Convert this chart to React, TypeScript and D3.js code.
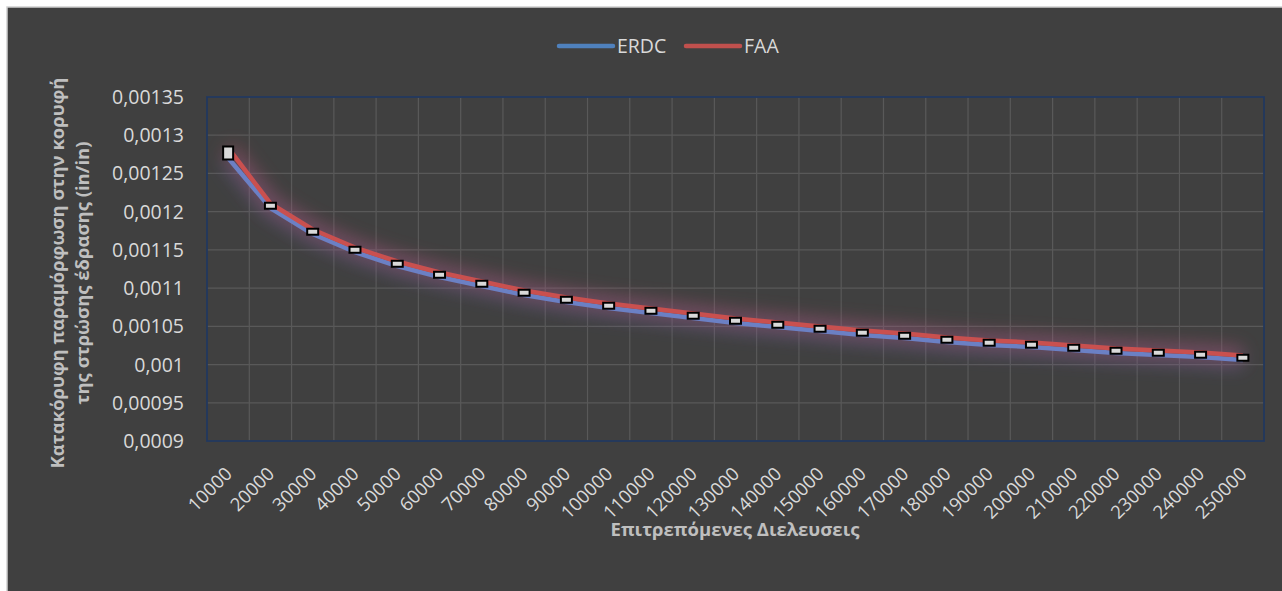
import React, { useRef, useEffect } from "react";
import * as d3 from "d3";

const categories = [
  "10000", "20000", "30000", "40000", "50000", "60000", "70000", "80000", "90000",
  "100000", "110000", "120000", "130000", "140000", "150000", "160000", "170000",
  "180000", "190000", "200000", "210000", "220000", "230000", "240000", "250000",
];

const erdc = [
  0.0012702, 0.0012048, 0.0011708, 0.0011472, 0.0011289, 0.0011145, 0.0011028,
  0.001091, 0.0010818, 0.001074, 0.0010674, 0.0010609, 0.0010544, 0.0010491,
  0.0010439, 0.0010387, 0.0010347, 0.0010295, 0.0010256, 0.001023, 0.001019,
  0.0010151, 0.0010125, 0.0010099, 0.001006,
];

const faa = [
  0.0012833, 0.0012107, 0.0011767, 0.0011531, 0.0011348, 0.0011204, 0.0011086,
  0.0010969, 0.0010877, 0.0010799, 0.0010733, 0.0010668, 0.0010602, 0.001055,
  0.0010498, 0.0010446, 0.0010406, 0.0010354, 0.0010315, 0.0010289, 0.0010249,
  0.001021, 0.0010184, 0.0010158, 0.0010118,
];

const yTicks = [
  0.0009, 0.00095, 0.001, 0.00105, 0.0011, 0.00115, 0.0012, 0.00125, 0.0013, 0.00135,
];

const seriesNames = ["ERDC", "FAA"];
const yTitle = ["Κατακόρυφη παραμόρφωση στην κορυφή", "της στρώσης έδρασης (in/in)"];
const xTitle = "Επιτρεπόμενες Διελευσεις";

const W = 1282;
const H = 591;
const FONT = "'Open Sans', 'Noto Sans', sans-serif";

const Chart = () => {
  const svgRef = useRef<SVGSVGElement>(null);

  useEffect(() => {
    const svg = d3.select(svgRef.current);
    svg.selectAll("*").remove();

    const plot = { left: 207, right: 1264, top: 97, bottom: 441 };

    // background
    svg.append("rect").attr("width", W).attr("height", H).attr("fill", "#ffffff");
    svg
      .append("rect")
      .attr("x", 7)
      .attr("y", 7)
      .attr("width", W)
      .attr("height", H)
      .attr("fill", "#404040")
      .attr("stroke", "#d0d0d0")
      .attr("stroke-width", 1.5);

    const defs = svg.append("defs");
    defs
      .append("filter")
      .attr("id", "glow")
      .attr("x", "-10%")
      .attr("y", "-60%")
      .attr("width", "120%")
      .attr("height", "220%")
      .append("feGaussianBlur")
      .attr("stdDeviation", 9);

    const x = d3.scaleBand().domain(categories).range([plot.left, plot.right]).padding(0);
    const y = d3.scaleLinear().domain([0.0009, 0.00135]).range([plot.bottom, plot.top]);
    const cx = (c: string) => (x(c) as number) + x.bandwidth() / 2;

    // gridlines
    const grid = svg.append("g").attr("stroke", "#595959").attr("stroke-width", 1.2);
    yTicks.forEach((t) => {
      grid
        .append("line")
        .attr("x1", plot.left)
        .attr("x2", plot.right)
        .attr("y1", y(t))
        .attr("y2", y(t));
    });
    categories.slice(1).forEach((c) => {
      grid
        .append("line")
        .attr("x1", x(c) as number)
        .attr("x2", x(c) as number)
        .attr("y1", plot.top)
        .attr("y2", plot.bottom);
    });

    // plot border
    svg
      .append("rect")
      .attr("x", plot.left)
      .attr("y", plot.top)
      .attr("width", plot.right - plot.left)
      .attr("height", plot.bottom - plot.top)
      .attr("fill", "none")
      .attr("stroke", "#22385e")
      .attr("stroke-width", 1.8);

    // y tick labels
    svg
      .append("g")
      .selectAll("text")
      .data(yTicks)
      .join("text")
      .attr("x", 184)
      .attr("y", (d) => y(d))
      .attr("dy", "0.36em")
      .attr("text-anchor", "end")
      .attr("fill", "#d9d9d9")
      .attr("font-family", FONT)
      .attr("font-size", 19.5)
      .text((d) => String(d).replace(".", ","));

    // x tick labels
    svg
      .append("g")
      .selectAll("text")
      .data(categories)
      .join("text")
      .attr("transform", (d) => `translate(${cx(d) + 5},${475}) rotate(-45)`)
      .attr("text-anchor", "end")
      .attr("fill", "#d9d9d9")
      .attr("font-family", FONT)
      .attr("font-size", 18.5)
      .text((d) => d);

    const line = d3
      .line<number>()
      .x((_, i) => cx(categories[i]))
      .y((d) => y(d));

    const series = [
      { name: seriesNames[0], values: erdc, color: "#6b80c4", glow: "#5a70c8" },
      { name: seriesNames[1], values: faa, color: "#c9504f", glow: "#d04a55" },
    ];

    // glow
    series.forEach((s) => {
      svg
        .append("path")
        .attr("d", line(s.values))
        .attr("fill", "none")
        .attr("stroke", s.glow)
        .attr("stroke-width", 18)
        .attr("opacity", 0.32)
        .attr("filter", "url(#glow)");
    });

    series.forEach((s) => {
      svg
        .append("path")
        .attr("d", line(s.values))
        .attr("fill", "none")
        .attr("stroke", s.color)
        .attr("stroke-width", 4.5)
        .attr("stroke-linejoin", "round");
    });

    // markers
    svg
      .append("g")
      .selectAll("rect")
      .data(categories)
      .join("rect")
      .attr("x", (d, i) => cx(d) - (i === 0 ? 5 : 5.5))
      .attr("y", (d, i) => y((erdc[i] + faa[i]) / 2) - (i === 0 ? 6.5 : 3))
      .attr("width", (d, i) => (i === 0 ? 10 : 11))
      .attr("height", (d, i) => (i === 0 ? 13 : 6))
      .attr("fill", "#d9d9d9")
      .attr("stroke", "#000000")
      .attr("stroke-width", 2);

    // legend
    const legend = svg.append("g");
    const legendItems = [
      { name: seriesNames[0], color: "#4f81bd", x0: 559 },
      { name: seriesNames[1], color: "#c0504d", x0: 686 },
    ];
    legendItems.forEach((l) => {
      legend
        .append("line")
        .attr("x1", l.x0)
        .attr("x2", l.x0 + 54)
        .attr("y1", 46)
        .attr("y2", 46)
        .attr("stroke", l.color)
        .attr("stroke-width", 4.5)
        .attr("stroke-linecap", "round");
      legend
        .append("text")
        .attr("x", l.x0 + 58)
        .attr("y", 46)
        .attr("dy", "0.36em")
        .attr("fill", "#d9d9d9")
        .attr("font-family", FONT)
        .attr("font-size", 19.5)
        .text(l.name);
    });

    // axis titles
    const midY = (plot.top + plot.bottom) / 2;
    yTitle.forEach((t, i) => {
      svg
        .append("text")
        .attr("transform", `translate(${64 + i * 25},${midY + 4}) rotate(-90)`)
        .attr("text-anchor", "middle")
        .attr("fill", "#bfbfbf")
        .attr("font-family", FONT)
        .attr("font-weight", "bold")
        .attr("font-size", 18.5)
        .text(t);
    });

    svg
      .append("text")
      .attr("x", 735)
      .attr("y", 536)
      .attr("text-anchor", "middle")
      .attr("fill", "#bfbfbf")
      .attr("font-family", FONT)
      .attr("font-weight", "bold")
      .attr("font-size", 18.5)
      .text(xTitle);
  }, []);

  return (
    <svg
      ref={svgRef}
      width={W}
      height={H}
      style={{ position: "absolute", left: 0, top: 0, display: "block" }}
    ></svg>
  );
};

export default function App() {
  return <Chart />;
}
